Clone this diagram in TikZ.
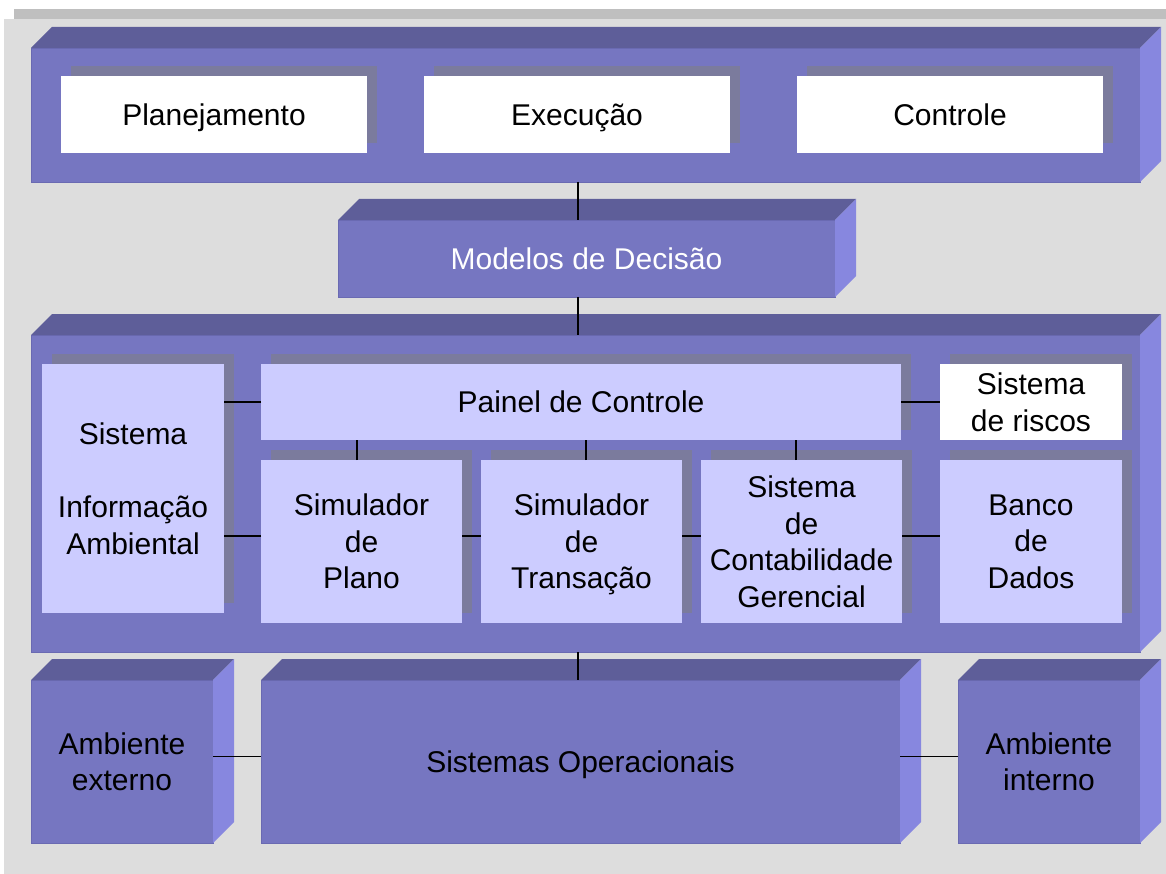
\documentclass[tikz,border=0pt]{standalone}
\usepackage{fontspec}
\setmainfont{Liberation Sans}
\usetikzlibrary{shadows}
\definecolor{bggray}{HTML}{DDDDDD}
\definecolor{slabfront}{HTML}{7676C1}
\definecolor{slabtop}{HTML}{5E5E99}
\definecolor{slabside}{HTML}{8787DF}
\definecolor{slabedge}{HTML}{6A6AB2}
\definecolor{lightbox}{HTML}{CCCCFF}
\definecolor{shadegray}{HTML}{808080}
\tikzset{
  slab/.style={fill=slabfront, draw=slabedge, line width=0.8pt, outer sep=0pt, inner sep=0pt, align=center, text depth=0pt},
  panel/.style={fill=lightbox, outer sep=0pt, inner sep=0pt, align=center, text depth=0pt,
    general shadow={fill=shadegray, fill opacity=0.55, shadow xshift=10pt, shadow yshift=10pt}},
  whitepanel/.style={panel, fill=white},
  link/.style={line width=1.2pt, black},
}
\newcommand{\slabsides}[1]{%
  \fill[slabtop] (#1.north west) -- ++(21,-21) -- ([shift={(21,-21)}]#1.north east) -- (#1.north east) -- cycle;
  \fill[slabside] (#1.north east) -- ++(21,-21) -- ([shift={(21,-21)}]#1.south east) -- (#1.south east) -- cycle;
}

\begin{document}
\begin{tikzpicture}[x=1pt, y=-1pt, font=\fontsize{30}{36.5}\selectfont]
\useasboundingbox (0,0) rectangle (1166,874);
\fill[bggray, general shadow={fill=shadegray, fill opacity=0.5, shadow xshift=10pt, shadow yshift=10pt}] (4,19) rectangle (1166,874);

\node[slab, minimum width=1109pt, minimum height=134pt] (ciclo) at (585.5,115) {};
\slabsides{ciclo}
\node[whitepanel, minimum width=306pt, minimum height=77pt] (planej) at (214,114.5) {Planejamento};
\node[whitepanel, minimum width=306pt, minimum height=77pt] (exec) at (577,114.5) {Execução};
\node[whitepanel, minimum width=306pt, minimum height=77pt] (controle) at (950,114.5) {Controle};

\node[slab, text=white, minimum width=497pt, minimum height=77pt] (modelos) at (586.5,258.5) {Modelos de Decisão};
\slabsides{modelos}

\node[slab, minimum width=1109pt, minimum height=317pt] (sistemas) at (585.5,493.5) {};
\slabsides{sistemas}
\node[panel, minimum width=182pt, minimum height=249pt] (sisinfo) at (133,488.5) {Sistema\\[36.5pt]Informação\\Ambiental};
\node[panel, minimum width=640pt, minimum height=76pt] (painel) at (581,402) {Painel de Controle};
\node[whitepanel, minimum width=182pt, minimum height=76pt] (riscos) at (1031,402) {Sistema\\de riscos};
\node[panel, minimum width=201pt, minimum height=163pt] (simplano) at (361.5,541.5) {Simulador\\de\\Plano};
\node[panel, minimum width=201pt, minimum height=163pt] (simtrans) at (581.5,541.5) {Simulador\\de\\Transação};
\node[panel, minimum width=201pt, minimum height=163pt] (contab) at (801.5,541.5) {Sistema\\de\\Contabilidade\\Gerencial};
\node[panel, minimum width=182pt, minimum height=163pt] (banco) at (1031,541.5) {Banco\\de\\Dados};

\node[slab, minimum width=182pt, minimum height=163pt] (ambext) at (122,761.5) {Ambiente\\externo};
\slabsides{ambext}
\node[slab, minimum width=639pt, minimum height=163pt] (operac) at (580.5,761.5) {Sistemas Operacionais};
\slabsides{operac}
\node[slab, minimum width=182pt, minimum height=163pt] (ambint) at (1049,761.5) {Ambiente\\interno};
\slabsides{ambint}

\draw[link] ([xshift=-7.5pt]ciclo.south) -- ([xshift=-7.5pt]ciclo.south |- modelos.north);
\draw[link] ([xshift=-8.5pt]modelos.south) -- ([xshift=-8.5pt]modelos.south |- sistemas.north);
\draw[link] ([xshift=-7.5pt]sistemas.south) -- ([xshift=-7.5pt]sistemas.south |- operac.north);
\draw[link] (painel.west) -- (painel.west -| sisinfo.east);
\draw[link] (painel.east) -- (riscos.west);
\draw[link] ([xshift=-4.5pt]simplano.north) -- ([xshift=-4.5pt]simplano.north |- painel.south);
\draw[link] ([xshift=4.5pt]simtrans.north) -- ([xshift=4.5pt]simtrans.north |- painel.south);
\draw[link] ([xshift=-5.5pt]contab.north) -- ([xshift=-5.5pt]contab.north |- painel.south);
\draw[link] ([yshift=5.5pt]simplano.west) -- ([yshift=5.5pt]simplano.west -| sisinfo.east);
\draw[link] ([yshift=5.5pt]simplano.east) -- ([yshift=5.5pt]simtrans.west);
\draw[link] ([yshift=5.5pt]simtrans.east) -- ([yshift=5.5pt]contab.west);
\draw[link] ([yshift=5.5pt]contab.east) -- ([yshift=5.5pt]banco.west);
\draw[link] ([yshift=5pt]ambext.east) -- ([yshift=5pt]operac.west);
\draw[link] ([yshift=5pt]operac.east) -- ([yshift=5pt]ambint.west);
\end{tikzpicture}
\end{document}
